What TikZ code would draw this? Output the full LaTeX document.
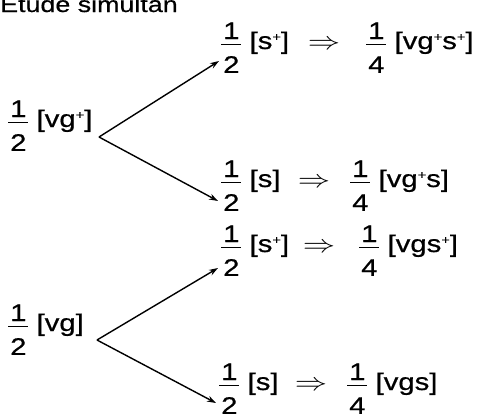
\documentclass[tikz,border=0pt]{standalone}
\usepackage{fontspec}
\setmainfont[FakeStretch=1.22, FakeBold=0.6]{Liberation Sans}
\usepackage{array}
\usetikzlibrary{arrows.meta}
\setlength{\arrayrulewidth}{0.9pt}
\newcommand{\frc}[2]{\raisebox{10pt}{\begin{tabular}[t]{@{\hspace{2pt}}c@{\hspace{2pt}}}#1\\[-3.4pt]\hline\rule{0pt}{28pt}#2\end{tabular}}}
\newcommand{\pl}{\raisebox{8pt}{\fontsize{12}{12}\selectfont +}}
\newcommand{\impl}{\scalebox{1.3}[1]{$\Rightarrow$}}

\begin{document}
\begin{tikzpicture}[x=1pt, y=-1pt,
    expr/.style={anchor=base west, inner sep=0pt, font=\fontsize{24}{28}\selectfont},
    imp/.style={anchor=base, inner sep=0pt, font=\fontsize{24}{28}\selectfont},
    arr/.style={-{Stealth[length=9pt,width=6pt]}, line width=1.4pt}
  ]
    \useasboundingbox (0,0) rectangle (487,418);
    \clip (0,0) rectangle (487,418);

    \node[expr, font=\fontsize{22}{26}\selectfont] (titre) at (0,12) {Etude simultan};

    % premier croisement
    \node[expr] (vgp) at (8,127) {\frc{1}{2} [vg\pl]};
    \coordinate (fk1) at (99,137);
    \node[expr] (s1) at (221,49)  {\frc{1}{2} [s\pl]};
    \node[imp]  (i1) at (324,49)  {\impl};
    \node[expr] (r1) at (366,49)  {\frc{1}{4} [vg\pl s\pl]};
    \node[expr] (s2) at (221,187) {\frc{1}{2} [s]};
    \node[imp]  (i2) at (314,187) {\impl};
    \node[expr] (r2) at (350,187) {\frc{1}{4} [vg\pl s]};

    % second croisement
    \node[expr] (vg) at (8,331) {\frc{1}{2} [vg]};
    \coordinate (fk2) at (97,340);
    \node[expr] (s3) at (221,252) {\frc{1}{2} [s\pl]};
    \node[imp]  (i3) at (319,252) {\impl};
    \node[expr] (r3) at (359,252) {\frc{1}{4} [vgs\pl]};
    \node[expr] (s4) at (219,390) {\frc{1}{2} [s]};
    \node[imp]  (i4) at (311,390) {\impl};
    \node[expr] (r4) at (347,390) {\frc{1}{4} [vgs]};

    \draw[arr] (fk1) -- ([shift={(-2pt,-12pt)}]s1.base west);
    \draw[arr] (fk1) -- ([shift={(-3pt,-14pt)}]s2.base west);
    \draw[arr] (fk2) -- ([shift={(-3pt,-16pt)}]s3.base west);
    \draw[arr] (fk2) -- ([shift={(-3pt,-13pt)}]s4.base west);
  \end{tikzpicture}
\end{document}
